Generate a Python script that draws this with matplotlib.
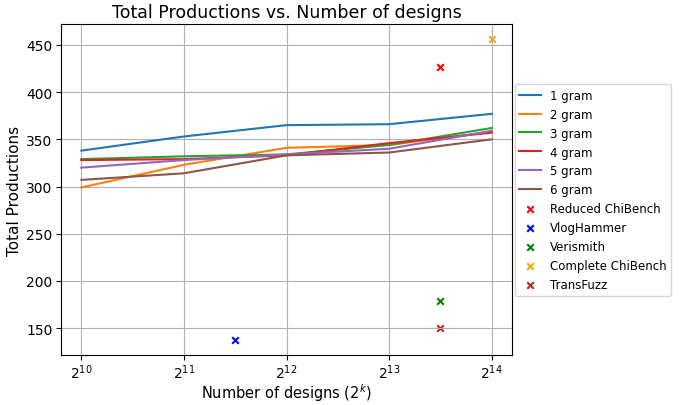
import numpy as np
import matplotlib
matplotlib.use('Agg')
import matplotlib.pyplot as plt

# number of designs (log2 scale)
designs = [2**10, 2**11, 2**12, 2**13, 2**14]

gram1 = [338, 353, 365, 366, 377]
gram2 = [299, 323, 341, 344, 358]
gram3 = [329, 332, 334, 344, 362]
gram4 = [328, 329, 333, 346, 357]
gram5 = [320, 328, 334, 340, 359]
gram6 = [307, 314, 333, 336, 350]

# other benchmarks
reduced_chibench = (2**13.5, 427)
vloghammer = (2**11.5, 137)
verismith = (2**13.5, 179)
complete_chibench = (2**14, 456)
transfuzz = (2**13.5, 150)

fig, ax = plt.subplots(figsize=(6.83, 4.06), dpi=100)
plt.subplots_adjust(left=0.089, right=0.75, top=0.938, bottom=0.122)

ax.plot(designs, gram1, label='1 gram')
ax.plot(designs, gram2, label='2 gram')
ax.plot(designs, gram3, label='3 gram')
ax.plot(designs, gram4, label='4 gram')
ax.plot(designs, gram5, label='5 gram')
ax.plot(designs, gram6, label='6 gram')

ax.scatter(*reduced_chibench, marker='x', color='red', s=22, label='Reduced ChiBench')
ax.scatter(*vloghammer, marker='x', color='blue', s=22, label='VlogHammer')
ax.scatter(*verismith, marker='x', color='green', s=22, label='Verismith')
ax.scatter(*complete_chibench, marker='x', color='orange', s=22, label='Complete ChiBench')
ax.scatter(*transfuzz, marker='x', color='brown', s=22, label='TransFuzz')

ax.set_xscale('log', base=2)
ax.set_xticks(designs)
ax.tick_params(labelsize=10, pad=2.5)
ax.tick_params(axis='x', pad=1.5)
ax.grid(True, color='#b0b0b0', linewidth=0.8)
ax.set_xlabel('Number of designs ($2^k$)', fontsize=10.5, labelpad=0.5)
ax.set_ylabel('Total Productions', fontsize=11, labelpad=3)
ax.set_title('Total Productions vs. Number of designs', fontsize=12.5, pad=5)
ax.legend(loc='center left', bbox_to_anchor=(1.0, 0.5), fontsize=8.5,
          borderaxespad=0.2, handlelength=1.8)

plt.savefig('out.png', dpi=100)
